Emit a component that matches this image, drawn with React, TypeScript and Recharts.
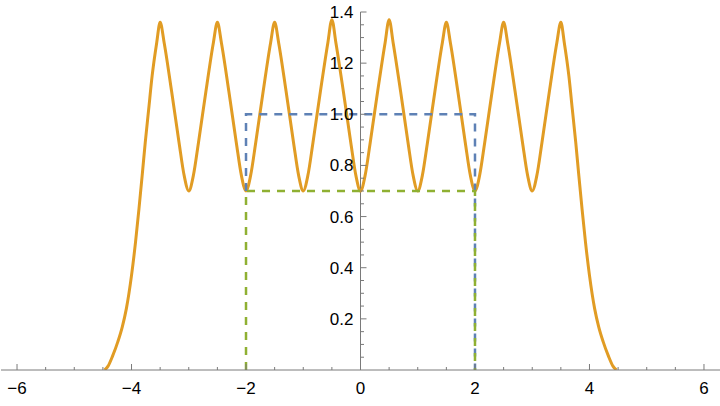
import { ComposedChart, Line, XAxis, YAxis, ReferenceLine } from 'recharts';

const CHART_W = 720;
const CHART_H = 406;
const Y_AXIS_W = 1;
// y ticks are handed the plot's left edge; the x domain is symmetric, so x = 0 is half the plot width further right
const ORIGIN_OFFSET = (CHART_W - Y_AXIS_W) / 2;

const AXIS = '#7a7a7a';
const ORANGE = '#e19c24';
const BLUE = '#5e81b5';
const GREEN = '#8fb032';
const FONT = '"Liberation Sans", Arial, sans-serif';

const xMajorTicks = [-6, -4, -2, 0, 2, 4, 6];
const xMinorTicks = [-5.5, -5, -4.5, -3.5, -3, -2.5, -1.5, -1, -0.5, 0.5, 1, 1.5, 2.5, 3, 3.5, 4.5, 5, 5.5];
const yMajorTicks = [0.2, 0.4, 0.6, 0.8, 1.0, 1.2, 1.4];
const yMinorTicks = [
  0.05, 0.1, 0.15, 0.25, 0.3, 0.35, 0.45, 0.5, 0.55, 0.65, 0.7, 0.75,
  0.85, 0.9, 0.95, 1.05, 1.1, 1.15, 1.25, 1.3, 1.35,
];

// orange curve
const curvePoints: [number, number][] = [
  [-4.47, 0], [-4.41, 0.015], [-4.33, 0.055], [-4.24, 0.11], [-4.16, 0.17], [-4.09, 0.24],
  [-4.0, 0.37], [-3.93, 0.5], [-3.87, 0.63], [-3.81, 0.77], [-3.76, 0.89], [-3.7, 1.02],
  [-3.64, 1.15], [-3.56, 1.28], [-3.5, 1.36],
  [-3.43, 1.28], [-3.3, 1.09], [-3.17, 0.89], [-3.08, 0.76], [-3, 0.7],
  [-2.92, 0.76], [-2.83, 0.89], [-2.7, 1.09], [-2.57, 1.28], [-2.5, 1.36],
  [-2.43, 1.28], [-2.3, 1.09], [-2.17, 0.89], [-2.08, 0.76], [-2, 0.7],
  [-1.92, 0.76], [-1.83, 0.89], [-1.7, 1.09], [-1.57, 1.28], [-1.5, 1.36],
  [-1.43, 1.28], [-1.3, 1.09], [-1.17, 0.89], [-1.08, 0.76], [-1, 0.7],
  [-0.92, 0.76], [-0.83, 0.89], [-0.7, 1.09], [-0.57, 1.28], [-0.5, 1.37],
  [-0.43, 1.28], [-0.3, 1.09], [-0.17, 0.89], [-0.08, 0.76], [0, 0.7],
  [0.08, 0.76], [0.17, 0.89], [0.3, 1.09], [0.43, 1.28], [0.5, 1.37],
  [0.57, 1.28], [0.7, 1.09], [0.83, 0.89], [0.92, 0.76], [1, 0.7],
  [1.08, 0.76], [1.17, 0.89], [1.3, 1.09], [1.43, 1.28], [1.5, 1.36],
  [1.57, 1.28], [1.7, 1.09], [1.83, 0.89], [1.92, 0.76], [2, 0.7],
  [2.08, 0.76], [2.17, 0.89], [2.3, 1.09], [2.43, 1.28], [2.5, 1.36],
  [2.57, 1.28], [2.7, 1.09], [2.83, 0.89], [2.92, 0.76], [3, 0.7],
  [3.08, 0.76], [3.17, 0.89], [3.3, 1.09], [3.43, 1.28], [3.5, 1.36],
  [3.56, 1.28], [3.64, 1.15], [3.7, 1.02], [3.76, 0.89], [3.81, 0.77], [3.87, 0.63],
  [3.93, 0.5], [4.0, 0.37], [4.09, 0.24], [4.16, 0.17], [4.24, 0.11], [4.33, 0.055],
  [4.41, 0.015], [4.47, 0],
];

const bluePath: [number, number][] = [[-2, 0.7], [-2, 1], [2, 1], [2, 0]];
const greenPath: [number, number][] = [[-2, 0], [-2, 0.7], [2, 0.7], [2, 0]];

const toRows = (pts: [number, number][]) => pts.map(([x, y]) => ({ x, y }));
const curve = toRows(curvePoints);
const blue = toRows(bluePath);
const green = toRows(greenPath);

const fmtX = (v: number) => (v < 0 ? `\u2212${-v}` : `${v}`);

function XTick(props: any) {
  const { x, y, payload } = props;
  const v = payload.value;
  const major = xMajorTicks.includes(v);
  return (
    <g>
      <line x1={x} x2={x} y1={y} y2={y - (major ? 6 : 3)} stroke={AXIS} strokeWidth={1} />
      {major && (
        <text x={x} y={y + 18} dy="0.35em" textAnchor="middle" fontSize={17} fontFamily={FONT} fill="#000">
          {fmtX(v)}
        </text>
      )}
    </g>
  );
}

function YTick(props: any) {
  const { x, y, payload } = props;
  const v = payload.value;
  const major = yMajorTicks.includes(v);
  const ax = x + ORIGIN_OFFSET;
  return (
    <g>
      <line x1={ax} x2={ax + (major ? 6 : 3.5)} y1={y} y2={y} stroke={AXIS} strokeWidth={1} />
      {major && (
        <text x={ax - 7} y={y} dy="0.35em" textAnchor="end" fontSize={17} fontFamily={FONT} fill="#000">
          {v.toFixed(1)}
        </text>
      )}
    </g>
  );
}

export default function App() {
  return (
    <div style={{ position: 'absolute', left: 0, top: 0, background: '#fff' }}>
      <ComposedChart width={CHART_W} height={CHART_H} margin={{ top: 12, right: 0, bottom: 0, left: 0 }}>
        <XAxis
          type="number"
          dataKey="x"
          domain={[-6.28, 6.28]}
          ticks={[...xMajorTicks, ...xMinorTicks].sort((a, b) => a - b)}
          interval={0}
          height={36}
          tickSize={0}
          tickMargin={0}
          tickLine={false}
          axisLine={{ stroke: AXIS, strokeWidth: 1 }}
          tick={(p: any) => <XTick {...p} />}
          allowDataOverflow
        />
        <ReferenceLine x={0} stroke={AXIS} strokeWidth={1} />
        <Line data={curve} dataKey="y" type="monotone" stroke={ORANGE} strokeWidth={3} dot={false} isAnimationActive={false} />
        <Line data={blue} dataKey="y" type="linear" stroke={BLUE} strokeWidth={2.5} strokeDasharray="8 7" dot={false} isAnimationActive={false} />
        <Line data={green} dataKey="y" type="linear" stroke={GREEN} strokeWidth={2.5} strokeDasharray="8 7" dot={false} isAnimationActive={false} />
        <YAxis
          type="number"
          dataKey="y"
          domain={[0, 1.4]}
          ticks={[...yMajorTicks, ...yMinorTicks].sort((a, b) => a - b)}
          interval={0}
          width={Y_AXIS_W}
          tickSize={0}
          tickMargin={0}
          tickLine={false}
          axisLine={false}
          tick={(p: any) => <YTick {...p} />}
          allowDataOverflow
        />
      </ComposedChart>
    </div>
  );
}
